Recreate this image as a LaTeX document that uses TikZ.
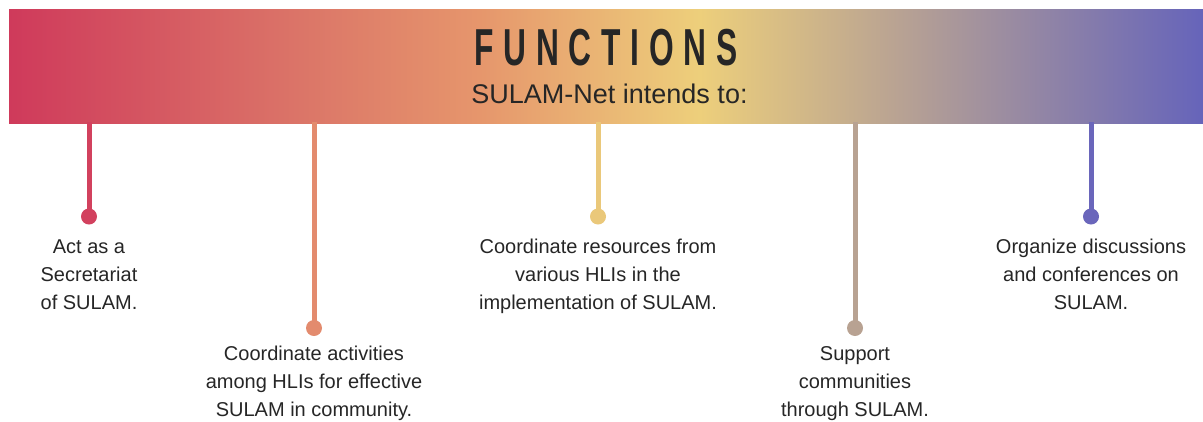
\documentclass[tikz,border=0pt]{standalone}
\usepackage{fontspec}
\usepackage{graphicx}
\setmainfont{Liberation Sans}
\newfontfamily\titlefont[LetterSpace=31]{Liberation Sans}
\definecolor{cA}{HTML}{CF3A5B}
\definecolor{cB}{HTML}{DB7568}
\definecolor{cC}{HTML}{E6966C}
\definecolor{cD}{HTML}{EDCF7B}
\definecolor{cE}{HTML}{B8A293}
\definecolor{cF}{HTML}{6664BA}
\definecolor{d1}{HTML}{D2415E}
\definecolor{d2}{HTML}{E38B6E}
\definecolor{d3}{HTML}{EAC87A}
\definecolor{d4}{HTML}{B8A292}
\definecolor{d5}{HTML}{6A66BB}
\definecolor{ink}{HTML}{262626}
\pgfdeclarehorizontalshading{bannershade}{100bp}{color(0bp)=(cA); color(25bp)=(cA); color(37.2bp)=(cB); color(44.7bp)=(cC); color(53.9bp)=(cD); color(62.3bp)=(cE); color(75bp)=(cF); color(100bp)=(cF)}
\tikzset{
  bannerbox/.style={shading=bannershade, draw=none, minimum width=1194pt, minimum height=114pt, inner sep=0pt, anchor=north west},
  dotnode/.style={circle, inner sep=0pt, minimum size=16pt},
  stem/.style={line width=5pt},
  lbl/.style={align=center, anchor=base, inner sep=0pt, text=ink, font=\fontsize{20}{28}\selectfont},
}
\begin{document}
\begin{tikzpicture}[x=1pt,y=-1pt]
\useasboundingbox (0,0) rectangle (1203,421);
\node[bannerbox] (banner) at (9,9) {};
\node[anchor=base, inner sep=0pt, text=ink, font=\titlefont\bfseries\fontsize{52}{52}\selectfont] (title) at (606,65) {\scalebox{0.61}[1]{FUNCTIONS}};
\node[anchor=base, inner sep=0pt, text=ink, font=\fontsize{27}{27}\selectfont] (sub) at (609.5,103) {SULAM-Net intends to:};
% stems
\coordinate (t1) at (89,122);
\coordinate (t2) at (314,122);
\coordinate (t3) at (598,122);
\coordinate (t4) at (855,122);
\coordinate (t5) at (1091,122);
\node[dotnode, fill=d1] (p1) at (89,216.5) {};
\node[dotnode, fill=d2] (p2) at (314,328) {};
\node[dotnode, fill=d3] (p3) at (598,216.5) {};
\node[dotnode, fill=d4] (p4) at (855,328) {};
\node[dotnode, fill=d5] (p5) at (1091,216.5) {};
\draw[stem, draw=d1] (t1) -- (p1.center);
\draw[stem, draw=d2] (t2) -- (p2.center);
\draw[stem, draw=d3] (t3) -- (p3.center);
\draw[stem, draw=d4] (t4) -- (p4.center);
\draw[stem, draw=d5] (t5) -- (p5.center);
\node[lbl] (l1) at (89,309.5) {Act as a\\Secretariat\\of SULAM.};
\node[lbl] (l2) at (314,416) {Coordinate activities\\among HLIs for effective\\SULAM in community.};
\node[lbl] (l3) at (598,309.5) {Coordinate resources from\\various HLIs in the\\implementation of SULAM.};
\node[lbl] (l4) at (855,416) {Support\\communities\\through SULAM.};
\node[lbl] (l5) at (1091,309.5) {Organize discussions\\and conferences on\\SULAM.};
\end{tikzpicture}
\end{document}
